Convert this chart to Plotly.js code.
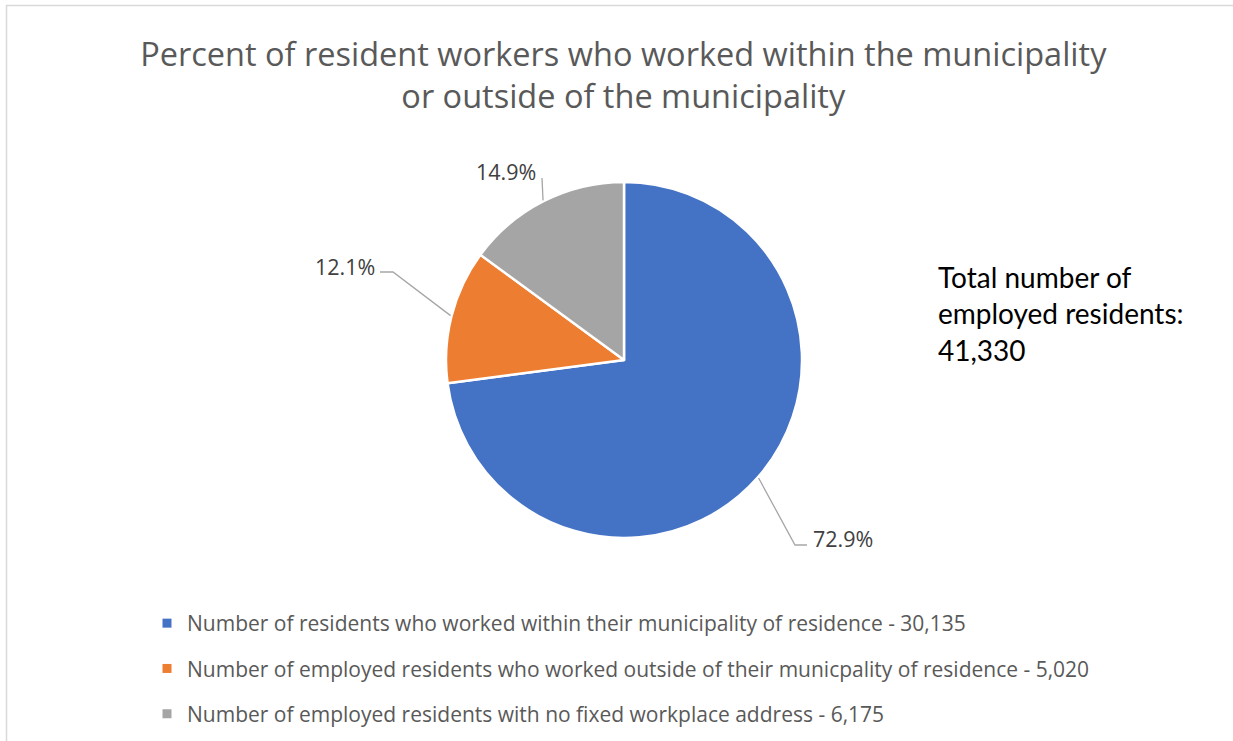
<!DOCTYPE html>
<html>
<head>
<meta charset="utf-8">
<script src="https://cdn.plot.ly/plotly-3.0.1.min.js"></script>
<style>
html,body{margin:0;padding:0;background:#fff;}
#chart{width:1233px;height:741px;}
</style>
</head>
<body>
<div id="chart"></div>
<script>
// ---- data ----
var categories = [
  "Number of residents who worked within their municipality of residence - 30,135",
  "Number of employed residents who worked outside of their municpality of residence - 5,020",
  "Number of employed residents with no fixed workplace address - 6,175"
];
var values = [30135, 5020, 6175];
var colors = ["#4472C4", "#ED7D31", "#A5A5A5"];
var titleText = "Percent of resident workers who worked within the municipality<br>or outside of the municipality";
var totalLabel = "Total number of<br>employed residents:<br>41,330";

// ---- layout constants (pixels) ----
var W = 1233, H = 741;
var cx = 624, cy = 360, R = 178;
// label placement: elbow point, end point, text position, anchor
var labelLayout = [
  {elbow: [795, 545], end: [807, 545], text: [811, 538], anchor: "left"},
  {elbow: [393, 272], end: [380, 272], text: [377, 267], anchor: "right"},
  {elbow: [542, 178], end: [542, 178], text: [538, 171], anchor: "right"}
];

function px(x){ return x / W; }
function py(y){ return 1 - y / H; }

var total = values.reduce(function(a,b){return a+b;}, 0);
var shapes = [];
var annotations = [];
var cum = 0;
for (var i = 0; i < values.length; i++) {
  var frac = values[i] / total;
  var mid = (cum + frac / 2) * 2 * Math.PI; // clockwise from 12 o'clock
  cum += frac;
  var sx = cx + (R + 1) * Math.sin(mid);
  var sy = cy - (R + 1) * Math.cos(mid);
  var L = labelLayout[i];
  var path = "M" + px(sx) + "," + py(sy) +
             " L" + px(L.elbow[0]) + "," + py(L.elbow[1]) +
             " L" + px(L.end[0]) + "," + py(L.end[1]);
  shapes.push({type: "path", xref: "paper", yref: "paper", path: path,
               line: {color: "#A6A6A6", width: 1.3}});
  annotations.push({
    xref: "paper", yref: "paper", x: px(L.text[0]), y: py(L.text[1]),
    xanchor: L.anchor, yanchor: "middle", showarrow: false,
    text: (frac * 100).toFixed(1) + "%",
    font: {family: "Open Sans, sans-serif", size: 21.5, color: "#404040"}
  });
}
// total annotation
annotations.push({
  xref: "paper", yref: "paper", x: px(936), y: py(313),
  xanchor: "left", yanchor: "middle", align: "left", showarrow: false,
  text: totalLabel,
  font: {family: "Lato, sans-serif", size: 28, color: "#000000"}
});
// frame
shapes.push({type: "path", xref: "paper", yref: "paper",
  path: "M" + px(6.5) + "," + py(745) + " L" + px(6.5) + "," + py(5.5) + " L" + px(1240) + "," + py(5.5),
  line: {color: "#D9D9D9", width: 1.5}});

var traces = [{
  type: "pie",
  values: values,
  labels: categories,
  sort: false,
  direction: "clockwise",
  rotation: 0,
  textinfo: "none",
  hoverinfo: "skip",
  showlegend: false,
  marker: {colors: colors, line: {color: "#FFFFFF", width: 2.5}},
  domain: {x: [px(cx - R), px(cx + R)], y: [py(cy + R), py(cy - R)]}
}];
for (var j = 0; j < categories.length; j++) {
  traces.push({
    type: "scatter", mode: "markers", x: [null], y: [null],
    name: categories[j], legendgroup: "g" + j, showlegend: true,
    marker: {symbol: "square", size: 9, color: colors[j]},
    hoverinfo: "skip"
  });
}

var layout = {
  width: W, height: H,
  margin: {l: 0, r: 0, t: 0, b: 0},
  paper_bgcolor: "#FFFFFF", plot_bgcolor: "rgba(0,0,0,0)",
  title: {text: titleText, x: 0.5055, xanchor: "center", y: py(66), yanchor: "middle",
          font: {family: "Open Sans, sans-serif", size: 32.5, color: "#595959"}},
  xaxis: {visible: false}, yaxis: {visible: false},
  showlegend: true,
  legend: {x: px(147), xanchor: "left", y: py(603), yanchor: "top",
           font: {family: "Open Sans, sans-serif", size: 21, color: "#595959"},
           tracegroupgap: 15, traceorder: "grouped", bgcolor: "rgba(0,0,0,0)"},
  hovermode: false,
  shapes: shapes,
  annotations: annotations
};
Plotly.newPlot("chart", traces, layout, {displayModeBar: false, staticPlot: true});
</script>
</body>
</html>
